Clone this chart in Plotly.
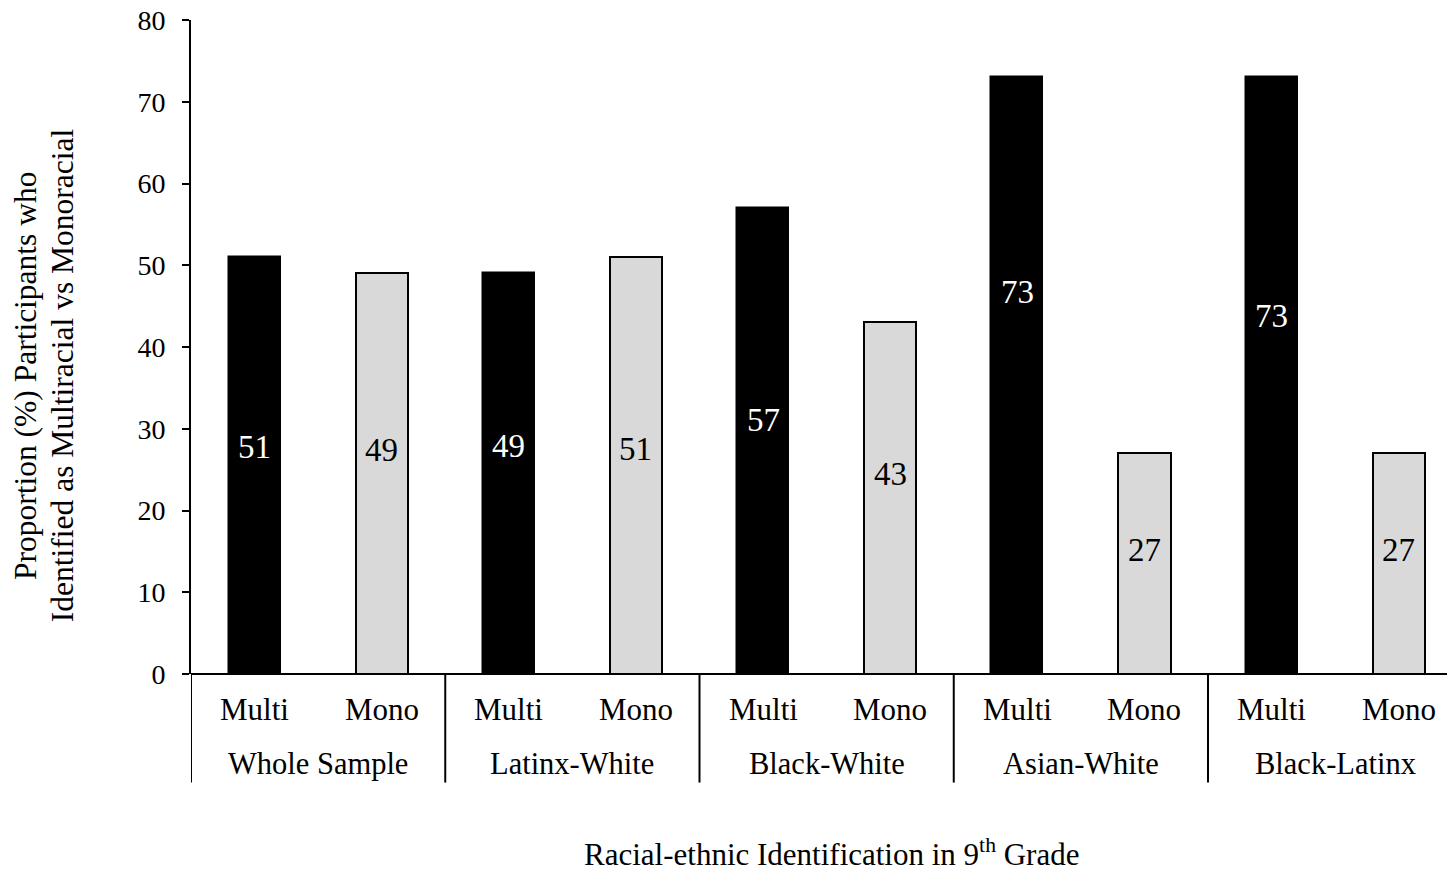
import plotly.graph_objects as go

# Share of participants identifying as multiracial vs monoracial, by 9th-grade group
groups = ["Whole Sample", "Latinx-White", "Black-White", "Asian-White", "Black-Latinx"]
subcats = ["Multi", "Mono"]
multi_pct = [51, 49, 57, 73, 73]
mono_pct = [49, 51, 43, 27, 27]

y_ticks = [0, 10, 20, 30, 40, 50, 60, 70, 80]

# where each value label sits, as a fraction of its bar's height
multi_label_frac = [0.545, 0.57, 0.545, 0.64, 0.60]
mono_label_frac = [0.56, 0.54, 0.57, 0.56, 0.56]

FONT = "Liberation Serif, Times New Roman, serif"
BAR_W = 0.41

multi_x = [2 * g for g in range(len(groups))]
mono_x = [2 * g + 1 for g in range(len(groups))]

fig = go.Figure()
fig.add_trace(go.Bar(
    x=multi_x, y=multi_pct, width=BAR_W, name=subcats[0],
    marker=dict(color="#000000", line=dict(color="#000000", width=1.5)),
    hoverinfo="y",
))
fig.add_trace(go.Bar(
    x=mono_x, y=mono_pct, width=BAR_W, name=subcats[1],
    marker=dict(color="#d9d9d9", line=dict(color="#000000", width=2)),
    hoverinfo="y",
))

annotations = []
# value labels inside the bars
for xs, vals, fracs, col in [(multi_x, multi_pct, multi_label_frac, "white"),
                             (mono_x, mono_pct, mono_label_frac, "black")]:
    for x, v, f in zip(xs, vals, fracs):
        annotations.append(dict(
            x=x, y=v * f, xref="x", yref="y", text=str(v), showarrow=False,
            font=dict(family=FONT, size=33, color=col),
            xanchor="center", yanchor="middle",
        ))

# category labels under the axis
for g, name in enumerate(groups):
    for k, s in enumerate(subcats):
        annotations.append(dict(
            x=2 * g + k, y=-0.055, xref="x", yref="paper", text=s, showarrow=False,
            font=dict(family=FONT, size=31, color="black"),
            xanchor="center", yanchor="middle",
        ))
    annotations.append(dict(
        x=2 * g + 0.5, y=-0.138, xref="x", yref="paper", text=name, showarrow=False,
        font=dict(family=FONT, size=30.5, color="black"),
        xanchor="center", yanchor="middle",
    ))

# x-axis title
annotations.append(dict(
    x=0.51, y=-0.273, xref="paper", yref="paper",
    text="Racial-ethnic Identification in 9<sup>th</sup> Grade", showarrow=False,
    font=dict(family=FONT, size=31, color="black"),
    xanchor="center", yanchor="middle",
))
# y-axis title, two rotated lines
for xp, line in [(-0.1322, "Proportion (%) Participants who"),
                 (-0.1027, "Identified as Multiracial vs Monoracial")]:
    annotations.append(dict(
        x=xp, y=0.457, xref="paper", yref="paper", textangle=-90,
        text=line, showarrow=False,
        font=dict(family=FONT, size=31.5, color="black"),
        xanchor="center", yanchor="middle",
    ))

# group dividers reaching down through the label rows
shapes = []
for g in range(len(groups)):
    shapes.append(dict(
        type="line", xref="x", yref="paper", x0=2 * g - 0.5, x1=2 * g - 0.5,
        y0=0, y1=-0.166, line=dict(color="black", width=2),
    ))

fig.update_layout(
    width=1447, height=872,
    margin=dict(l=191, r=0, t=20, b=198),
    paper_bgcolor="white", plot_bgcolor="white",
    showlegend=False, bargap=0,
    annotations=annotations, shapes=shapes,
    font=dict(family=FONT, color="black"),
)
fig.update_xaxes(
    range=[-0.5, 9.38], showticklabels=False, ticks="", showgrid=False,
    zeroline=False, showline=False,
)
fig.update_yaxes(
    range=[0, 80], tickvals=y_ticks, ticks="outside", ticklen=7, tickwidth=2,
    tickcolor="black", showline=True, linecolor="black", linewidth=2,
    showgrid=False, zeroline=True, zerolinecolor="black", zerolinewidth=2,
    tickfont=dict(family=FONT, size=28, color="black"), ticklabelstandoff=11,
)

fig.write_html("out.html")
